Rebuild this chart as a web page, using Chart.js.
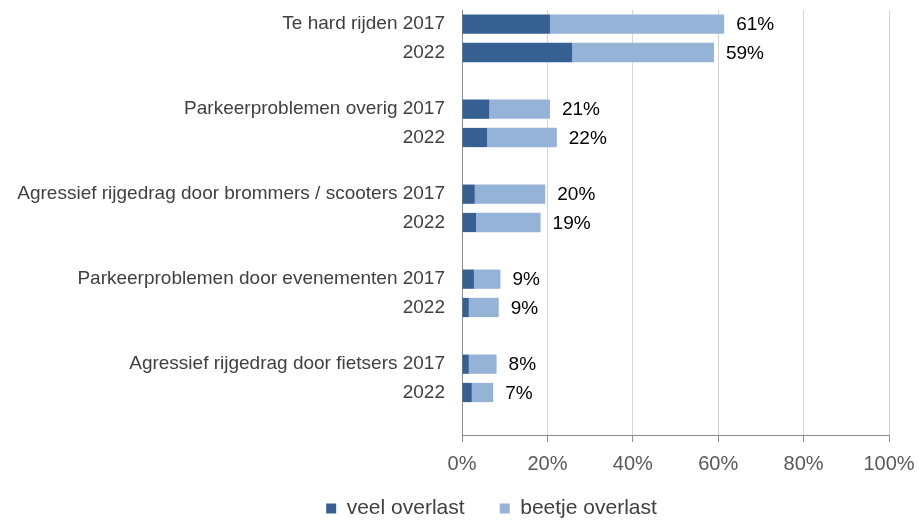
<!DOCTYPE html>
<html>
<head>
<meta charset="utf-8">
<script src="https://cdn.jsdelivr.net/npm/chart.js@4"></script>
<style>
  html, body { margin: 0; padding: 0; background: #fff; }
  #wrap { width: 919px; height: 520px; }
</style>
</head>
<body>
<div id="wrap"><canvas id="chart" width="919" height="520"></canvas></div>
<script>
// onderwerpen (elk met 2017 en 2022)
const onderwerpen = [
  "Te hard rijden",
  "Parkeerproblemen overig",
  "Agressief rijgedrag door brommers / scooters",
  "Parkeerproblemen door evenementen",
  "Agressief rijgedrag door fietsers"
];
const jaren = ["2017", "2022"];

// per onderwerp: [2017, 2022]
const veelOverlast   = [20.6, 25.8, 6.4, 5.9, 3.0, 3.3, 2.8, 1.6, 1.6, 2.3];
const beetjeOverlast = [40.8, 33.2, 14.2, 16.3, 16.5, 15.1, 6.2, 7.0, 6.5, 5.0];
const totaalLabels   = ["61%", "59%", "21%", "22%", "20%", "19%", "9%", "9%", "8%", "7%"];

const xTicks = [0, 20, 40, 60, 80, 100];

const FONT = "'Liberation Sans', Arial, sans-serif";

// categorieen opbouwen met een lege rij na elk onderwerp
const labels = [];
const veelData = [];
const beetjeData = [];
const totaalData = [];
onderwerpen.forEach((o, i) => {
  jaren.forEach((j, k) => {
    const idx = i * 2 + k;
    labels.push(k === 0 ? o + " " + j : j);
    veelData.push(veelOverlast[idx]);
    beetjeData.push(beetjeOverlast[idx]);
    totaalData.push(totaalLabels[idx]);
  });
  labels.push("");
  veelData.push(null);
  beetjeData.push(null);
  totaalData.push(null);
});

// totaal-labels achter de balken
const totaalPlugin = {
  id: "totaal",
  afterDatasetsDraw(chart) {
    const meta = chart.getDatasetMeta(1);
    const ctx = chart.ctx;
    ctx.save();
    ctx.font = "19px " + FONT;
    ctx.fillStyle = "#000";
    ctx.textBaseline = "middle";
    ctx.textAlign = "left";
    meta.data.forEach((el, i) => {
      if (totaalData[i] == null) return;
      ctx.fillText(totaalData[i], el.x + 12, el.y + 1);
    });
    ctx.restore();
  }
};

// legenda iets verschuiven zoals in het origineel
const legendShift = {
  id: "legendShift",
  afterLayout(chart) {
    chart.legend.left += 47;
    chart.legend.right += 47;
    chart.legend.top += 9;
    chart.legend.bottom += 9;
  }
};

new Chart(document.getElementById("chart"), {
  type: "bar",
  data: {
    labels,
    datasets: [
      {
        label: "veel overlast",
        data: veelData,
        backgroundColor: "#376092",
        borderWidth: 0
      },
      {
        label: "beetje overlast",
        data: beetjeData,
        backgroundColor: "#95b3d7",
        borderWidth: 0
      }
    ]
  },
  options: {
    indexAxis: "y",
    responsive: false,
    animation: false,
    devicePixelRatio: 1,
    layout: { padding: { top: 10, right: 30, left: 0, bottom: 0 } },
    datasets: {
      bar: { categoryPercentage: 1, barPercentage: 0.68 }
    },
    plugins: {
      legend: {
        position: "bottom",
        labels: {
          font: { family: FONT, size: 21 },
          color: "#404040",
          boxWidth: 10,
          boxHeight: 10,
          padding: 6,
          generateLabels: chart => {
            const items = Chart.defaults.plugins.legend.labels.generateLabels(chart);
            items[0].text = items[0].text + "     ";
            return items;
          }
        }
      },
      tooltip: { enabled: false }
    },
    scales: {
      x: {
        stacked: true,
        min: 0,
        max: 100,
        afterBuildTicks: s => { s.ticks = xTicks.map(v => ({ value: v })); },
        afterFit: s => {
          s.height -= 3;
          s.paddingLeft = 0;
          s.paddingRight = 0;
        },
        ticks: {
          callback: v => v + "%",
          font: { family: FONT, size: 20 },
          color: "#595959",
          padding: 10
        },
        grid: {
          color: "#d4d4d4",
          tickColor: "#8c8c8c",
          tickLength: 7,
          lineWidth: 1
        },
        border: { display: true, color: "#8c8c8c", width: 1 }
      },
      y: {
        stacked: true,
        afterFit: s => {
          s.width = 462;
          s.paddingTop = 0;
          s.paddingBottom = 0;
        },
        ticks: {
          font: { family: FONT, size: 19 },
          color: "#404040",
          padding: 17,
          autoSkip: false
        },
        grid: { display: false, drawTicks: false },
        border: { display: true, color: "#8c8c8c", width: 1 }
      }
    }
  },
  plugins: [totaalPlugin, legendShift]
});
</script>
</body>
</html>
